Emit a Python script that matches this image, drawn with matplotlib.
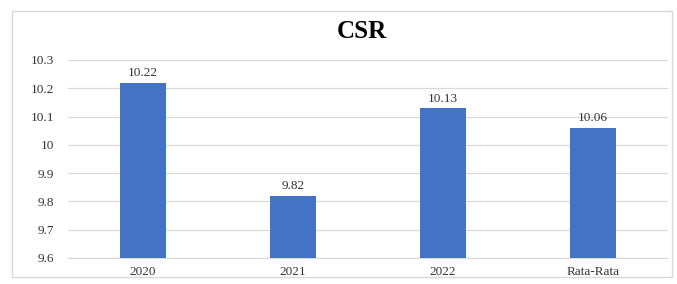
import matplotlib.pyplot as plt
from matplotlib.patches import Rectangle

categories = ['2020', '2021', '2022', 'Rata-Rata']
values = [10.22, 9.82, 10.13, 10.06]
labels = ['10.22', '9.82', '10.13', '10.06']
yticks = [9.6, 9.7, 9.8, 9.9, 10.0, 10.1, 10.2, 10.3]
ytick_labels = ['9.6', '9.7', '9.8', '9.9', '10', '10.1', '10.2', '10.3']

plt.rcParams['font.family'] = ['Liberation Serif', 'DejaVu Serif']

fig = plt.figure(figsize=(6.77, 2.84), dpi=100)
W, H = 677, 284
ax = fig.add_axes([68 / W, 1 - 258 / H, 600 / W, 198 / H])

x = range(len(categories))
base = 9.6
ax.bar(x, [v - base for v in values], bottom=base, width=0.313, color='#4472C4', zorder=3)
for xi, v, lab in zip(x, values, labels):
    ax.text(xi, v + 0.012, lab, ha='center', va='bottom', fontsize=9.5, color='#333333')

ax.set_xlim(-0.5, len(categories) - 0.5)
ax.set_ylim(9.6, 10.3)
ax.set_yticks(yticks)
ax.set_yticklabels(ytick_labels, fontsize=9.5, color='#333333')
ax.set_xticks(list(x))
ax.set_xticklabels(categories, fontsize=9.5, color='#333333')
ax.grid(axis='y', color='#d9d9d9', linewidth=0.9, zorder=0)
ax.tick_params(axis='y', length=0, pad=10)
ax.tick_params(axis='x', length=0, pad=6)
for s in ax.spines.values():
    s.set_visible(False)
ax.spines['bottom'].set_visible(True)
ax.spines['bottom'].set_color('#d9d9d9')

fig.text(362 / W, 1 - 31 / H, 'CSR', ha='center', va='center', fontsize=18, fontweight='bold')

fig.patches.append(Rectangle((12 / W, 7 / H), 660 / W, 266 / H, transform=fig.transFigure,
                             fill=False, edgecolor='#d9d9d9', linewidth=1))

fig.savefig('out.png', dpi=100)
